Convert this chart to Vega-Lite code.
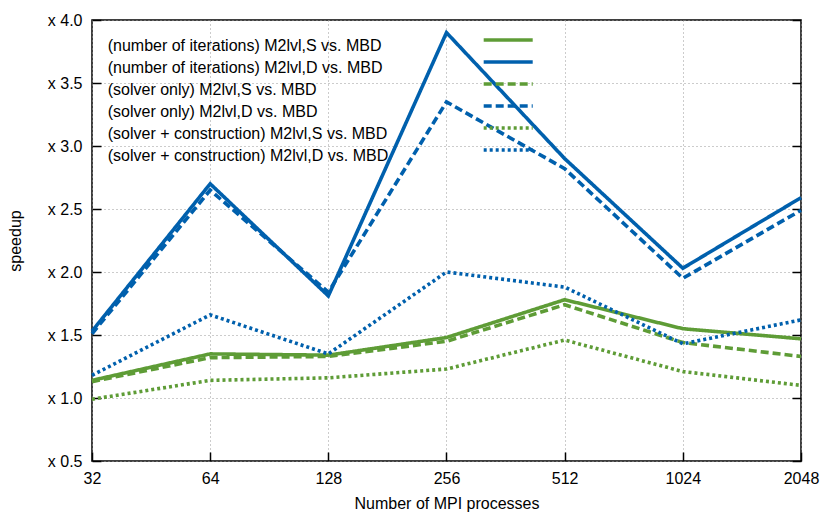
{
  "$schema": "https://vega.github.io/schema/vega-lite/v6.json",
  "width": 709,
  "height": 441,
  "autosize": {"type": "none"},
  "padding": {"left": 92, "top": 20, "right": 29, "bottom": 54},
  "config": {
    "font": "Liberation Sans",
    "view": {"stroke": "black", "strokeWidth": 1.5},
    "legend": {
      "orient": "none",
      "legendX": 408.2,
      "legendY": 18,
      "padding": 0,
      "symbolType": "M-24,-5.88H24",
      "symbolSize": 4.17,
      "symbolStrokeWidth": 3.6,
      "labelFontSize": 16,
      "labelColor": "black",
      "labelLimit": 0,
      "labelOffset": -408.5,
      "labelBaseline": "middle",
      "rowPadding": 0
    }
  },
  "data": {
    "values": [
      {"procs": 32, "speedup": 1.14, "series": "(number of iterations) M2lvl,S vs. MBD"},
      {"procs": 64, "speedup": 1.35, "series": "(number of iterations) M2lvl,S vs. MBD"},
      {"procs": 128, "speedup": 1.34, "series": "(number of iterations) M2lvl,S vs. MBD"},
      {"procs": 256, "speedup": 1.48, "series": "(number of iterations) M2lvl,S vs. MBD"},
      {"procs": 512, "speedup": 1.78, "series": "(number of iterations) M2lvl,S vs. MBD"},
      {"procs": 1024, "speedup": 1.55, "series": "(number of iterations) M2lvl,S vs. MBD"},
      {"procs": 2048, "speedup": 1.47, "series": "(number of iterations) M2lvl,S vs. MBD"},
      {"procs": 32, "speedup": 1.53, "series": "(number of iterations) M2lvl,D vs. MBD"},
      {"procs": 64, "speedup": 2.70, "series": "(number of iterations) M2lvl,D vs. MBD"},
      {"procs": 128, "speedup": 1.81, "series": "(number of iterations) M2lvl,D vs. MBD"},
      {"procs": 256, "speedup": 3.90, "series": "(number of iterations) M2lvl,D vs. MBD"},
      {"procs": 512, "speedup": 2.90, "series": "(number of iterations) M2lvl,D vs. MBD"},
      {"procs": 1024, "speedup": 2.03, "series": "(number of iterations) M2lvl,D vs. MBD"},
      {"procs": 2048, "speedup": 2.59, "series": "(number of iterations) M2lvl,D vs. MBD"},
      {"procs": 32, "speedup": 1.13, "series": "(solver only) M2lvl,S vs. MBD"},
      {"procs": 64, "speedup": 1.32, "series": "(solver only) M2lvl,S vs. MBD"},
      {"procs": 128, "speedup": 1.33, "series": "(solver only) M2lvl,S vs. MBD"},
      {"procs": 256, "speedup": 1.45, "series": "(solver only) M2lvl,S vs. MBD"},
      {"procs": 512, "speedup": 1.74, "series": "(solver only) M2lvl,S vs. MBD"},
      {"procs": 1024, "speedup": 1.44, "series": "(solver only) M2lvl,S vs. MBD"},
      {"procs": 2048, "speedup": 1.33, "series": "(solver only) M2lvl,S vs. MBD"},
      {"procs": 32, "speedup": 1.51, "series": "(solver only) M2lvl,D vs. MBD"},
      {"procs": 64, "speedup": 2.65, "series": "(solver only) M2lvl,D vs. MBD"},
      {"procs": 128, "speedup": 1.84, "series": "(solver only) M2lvl,D vs. MBD"},
      {"procs": 256, "speedup": 3.35, "series": "(solver only) M2lvl,D vs. MBD"},
      {"procs": 512, "speedup": 2.82, "series": "(solver only) M2lvl,D vs. MBD"},
      {"procs": 1024, "speedup": 1.95, "series": "(solver only) M2lvl,D vs. MBD"},
      {"procs": 2048, "speedup": 2.49, "series": "(solver only) M2lvl,D vs. MBD"},
      {"procs": 32, "speedup": 0.99, "series": "(solver + construction) M2lvl,S vs. MBD"},
      {"procs": 64, "speedup": 1.14, "series": "(solver + construction) M2lvl,S vs. MBD"},
      {"procs": 128, "speedup": 1.16, "series": "(solver + construction) M2lvl,S vs. MBD"},
      {"procs": 256, "speedup": 1.23, "series": "(solver + construction) M2lvl,S vs. MBD"},
      {"procs": 512, "speedup": 1.46, "series": "(solver + construction) M2lvl,S vs. MBD"},
      {"procs": 1024, "speedup": 1.21, "series": "(solver + construction) M2lvl,S vs. MBD"},
      {"procs": 2048, "speedup": 1.10, "series": "(solver + construction) M2lvl,S vs. MBD"},
      {"procs": 32, "speedup": 1.18, "series": "(solver + construction) M2lvl,D vs. MBD"},
      {"procs": 64, "speedup": 1.66, "series": "(solver + construction) M2lvl,D vs. MBD"},
      {"procs": 128, "speedup": 1.35, "series": "(solver + construction) M2lvl,D vs. MBD"},
      {"procs": 256, "speedup": 2.00, "series": "(solver + construction) M2lvl,D vs. MBD"},
      {"procs": 512, "speedup": 1.88, "series": "(solver + construction) M2lvl,D vs. MBD"},
      {"procs": 1024, "speedup": 1.43, "series": "(solver + construction) M2lvl,D vs. MBD"},
      {"procs": 2048, "speedup": 1.62, "series": "(solver + construction) M2lvl,D vs. MBD"}
    ]
  },
  "layer": [
    {
      "mark": {"type": "line", "strokeWidth": 3.6, "strokeCap": "butt"},
      "encoding": {
        "x": {
          "field": "procs",
          "type": "quantitative",
          "scale": {"type": "log", "base": 2, "domain": [32, 2048], "nice": false},
          "axis": {
            "values": [32, 64, 128, 256, 512, 1024, 2048],
            "format": "d",
            "title": "Number of MPI processes",
            "titleFontSize": 16,
            "titleFontWeight": "normal",
            "titleColor": "black",
            "titlePadding": 9,
            "labelFontSize": 16,
            "labelColor": "black",
            "labelFlush": false,
            "labelOverlap": false,
            "labelPadding": 18,
            "tickSize": -9,
            "tickColor": "black",
            "tickWidth": 1.5,
            "domain": false,
            "grid": true,
            "gridDash": [1, 3],
            "gridColor": "#999999",
            "gridWidth": 1
          }
        },
        "y": {
          "field": "speedup",
          "type": "quantitative",
          "scale": {"domain": [0.5, 4.0], "nice": false, "zero": false},
          "axis": {
            "values": [0.5, 1.0, 1.5, 2.0, 2.5, 3.0, 3.5, 4.0],
            "labelExpr": "'x ' + format(datum.value, '.1f')",
            "title": "speedup",
            "titleFontSize": 16,
            "titleFontWeight": "normal",
            "titleColor": "black",
            "titlePadding": 24,
            "labelFontSize": 16,
            "labelColor": "black",
            "labelPadding": 19,
            "labelFlush": false,
            "tickSize": -9,
            "tickColor": "black",
            "tickWidth": 1.5,
            "domain": false,
            "grid": true,
            "gridDash": [1, 3],
            "gridColor": "#999999",
            "gridWidth": 1
          }
        },
        "color": {
          "field": "series",
          "type": "nominal",
          "scale": {
            "domain": [
              "(number of iterations) M2lvl,S vs. MBD",
              "(number of iterations) M2lvl,D vs. MBD",
              "(solver only) M2lvl,S vs. MBD",
              "(solver only) M2lvl,D vs. MBD",
              "(solver + construction) M2lvl,S vs. MBD",
              "(solver + construction) M2lvl,D vs. MBD"
            ],
            "range": ["#5e9c36", "#0060ad", "#5e9c36", "#0060ad", "#5e9c36", "#0060ad"]
          },
          "legend": {"title": null}
        },
        "strokeDash": {
          "field": "series",
          "type": "nominal",
          "scale": {
            "domain": [
              "(number of iterations) M2lvl,S vs. MBD",
              "(number of iterations) M2lvl,D vs. MBD",
              "(solver only) M2lvl,S vs. MBD",
              "(solver only) M2lvl,D vs. MBD",
              "(solver + construction) M2lvl,S vs. MBD",
              "(solver + construction) M2lvl,D vs. MBD"
            ],
            "range": [[1, 0], [1, 0], [8, 4], [8, 4], [3, 3], [3, 3]]
          },
          "legend": {"title": null}
        }
      }
    },
    {
      "mark": {"type": "line", "strokeOpacity": 0},
      "encoding": {
        "x": {"field": "procs", "type": "quantitative"},
        "y": {
          "field": "speedup",
          "type": "quantitative",
          "axis": {
            "orient": "right",
            "values": [0.5, 1.0, 1.5, 2.0, 2.5, 3.0, 3.5, 4.0],
            "labels": false,
            "title": null,
            "grid": false,
            "domain": false,
            "tickSize": -9,
            "tickColor": "black",
            "tickWidth": 1.5
          }
        }
      }
    }
  ],
  "resolve": {"axis": {"y": "independent"}}
}
